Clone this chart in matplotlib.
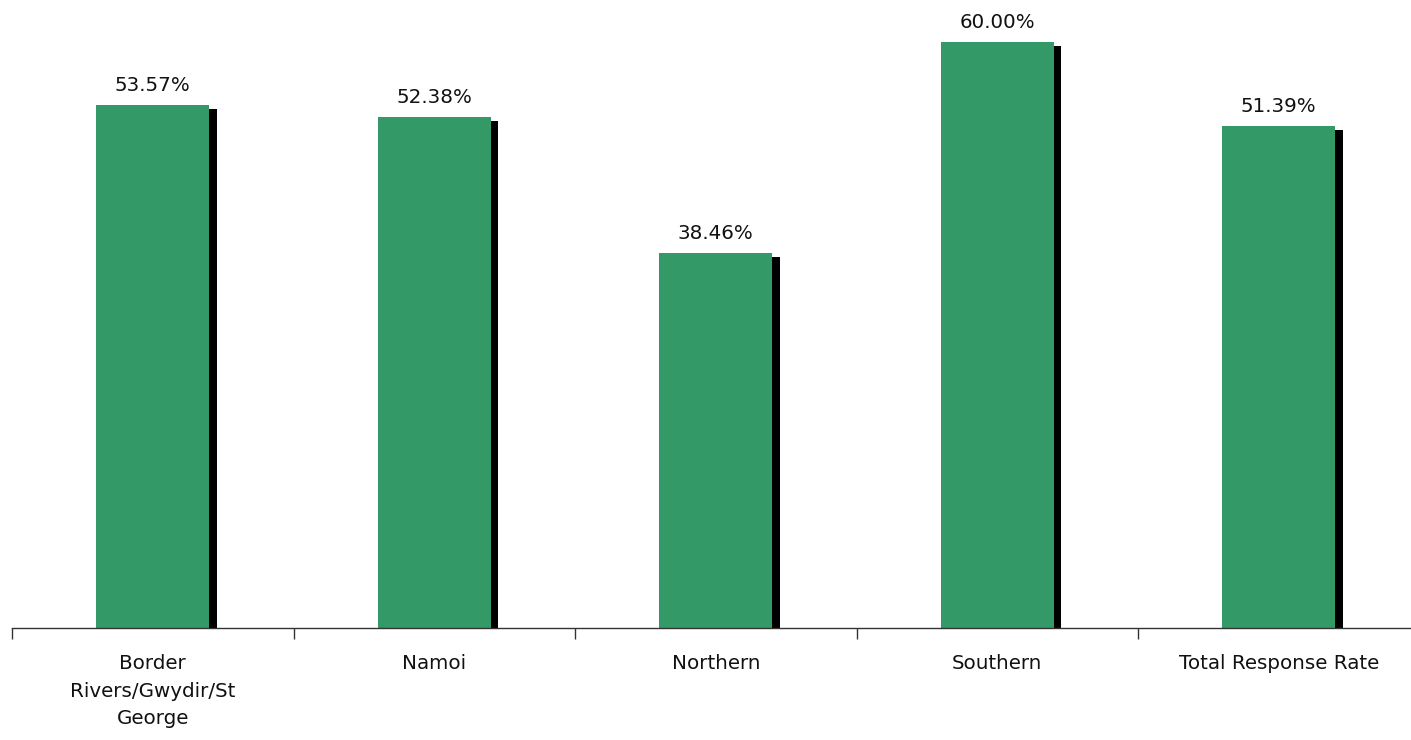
import matplotlib
matplotlib.use("Agg")
import matplotlib.pyplot as plt
import numpy as np

categories = ["Border\nRivers/Gwydir/St\nGeorge", "Namoi", "Northern", "Southern", "Total Response Rate"]
values = [53.57, 52.38, 38.46, 60.00, 51.39]
labels = ["53.57%", "52.38%", "38.46%", "60.00%", "51.39%"]

W, H = 1411, 740
fig = plt.figure(figsize=(W/100, H/100), dpi=100)
left = 12/W
axw = 1407.5/W
bottom = (H-628)/H
axh = 628/H
ax = fig.add_axes([left, bottom, axw, axh])

x = np.arange(len(values))
bw = 0.40
green = "#339966"
# shadow
ax.bar(x + 0.028, np.array(values) - 0.41, width=bw, color="black", zorder=1)
ax.bar(x, values, width=bw, color=green, zorder=2)

for xi, v, lab in zip(x, values, labels):
    ax.text(xi, v + 1.43, lab, ha="center", va="baseline", fontsize=14.3, color="#111111")

ax.set_xlim(-0.5, len(values) - 0.5)
ax.set_ylim(0, 64.34)
ax.set_xticks(x)
ax.set_xticklabels(categories, fontsize=14.3, color="#111111", linespacing=1.55)
ax.tick_params(axis="x", which="major", length=0, pad=19)
ax.set_xticks(np.arange(-0.5, len(values) - 0.5, 1.0), minor=True)
ax.tick_params(axis="x", which="minor", length=8, width=1, color="#333333")
ax.set_yticks([])
for s in ["left", "right", "top"]:
    ax.spines[s].set_visible(False)
ax.spines["bottom"].set_color("#333333")
ax.spines["bottom"].set_linewidth(1)

fig.savefig("out.png", dpi=100)
